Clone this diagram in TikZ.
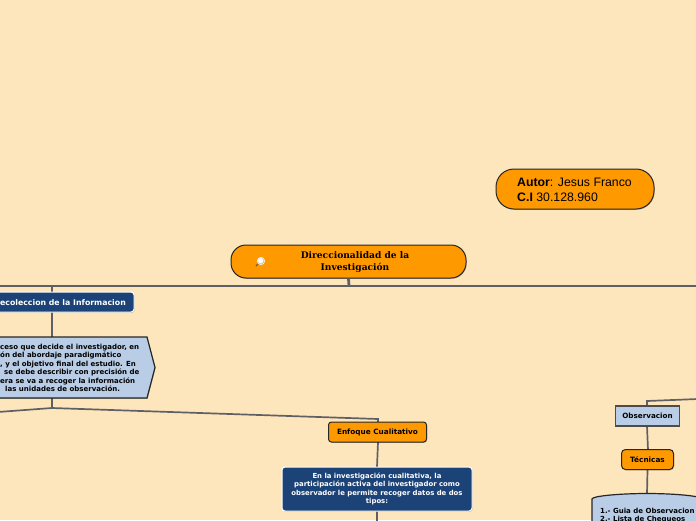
\documentclass[tikz,border=0pt]{standalone}
\usepackage{fontspec}
\setmainfont{DejaVu Sans}
\newfontfamily\titlefont{DejaVu Serif}
\newfontfamily\autfont{Liberation Sans}
\usetikzlibrary{shapes.geometric,shadows}
\definecolor{bg}{HTML}{FEE6BC}
\definecolor{orange1}{HTML}{FF9900}
\definecolor{navy1}{HTML}{1C4377}
\definecolor{pale1}{HTML}{B9CDE6}
\definecolor{line1}{HTML}{5F5F66}
\tikzset{
 x=1pt,y=-1pt,
 shade1/.style={drop shadow={shadow xshift=0.6pt,shadow yshift=-0.8pt,opacity=0.25,fill=black}},
 conn/.style={draw=line1,line width=1.7pt},
 mainconn/.style={draw=line1,line width=2.8pt},
 rootbox/.style={draw=black!85,line width=1pt,fill=orange1,rounded corners=15pt,shade1,inner sep=0pt},
 orangebox/.style={draw=black!85,line width=1pt,fill=orange1,rounded corners=3pt,shade1,inner sep=0pt,font=\fontsize{7.3}{9}\selectfont\bfseries,text=black},
 navybox/.style={draw=white,line width=1pt,fill=navy1,rounded corners=3pt,shade1,inner sep=0pt,font=\fontsize{6.9}{8.6}\selectfont\bfseries,text=white,align=center},
 palebox/.style={draw=black!70,line width=1.2pt,fill=pale1,shade1,inner sep=0pt,font=\fontsize{7.2}{9}\selectfont\bfseries,text=black},
 txt/.style={inner sep=0pt,anchor=base west,font=\fontsize{7}{9}\selectfont\bfseries,text=black},
}
\begin{document}
\begin{tikzpicture}
\useasboundingbox (0,0) rectangle (696,520);
\clip (0,0) rectangle (696,520);
\fill[bg] (0,0) rectangle (696,520);

% named anchors for free connector ends
\coordinate (rail) at (349,286);
\coordinate (railL) at (-2,286);
\coordinate (railR) at (698,286);
\coordinate (railRec) at (52,286);
\coordinate (fork) at (52,408);
\coordinate (forkL) at (-2,412);
\coordinate (bendE) at (378,419);
\coordinate (bendO) at (647,401);
\coordinate (offR) at (698,399);
\coordinate (offD) at (377,522);

% connectors
\draw[mainconn] (railL) -- (railR);
\draw[conn] (railRec) -- (52,292);
\draw[conn] (52,312) -- (52,337);
\draw[conn] (52,398) -- (fork);
\draw[conn] (forkL) -- (fork) -- (bendE) -- (378,423);
\draw[conn] (378,442) -- (377,467);
\draw[conn] (377,511) -- (offD);
\draw[conn] (647,407) -- (bendO) -- (offR);
\draw[conn] (647,426) -- (648,450);
\draw[conn] (647.5,470) -- (647,494);

% root
\node[rootbox,minimum width=235pt,minimum height=33pt] (root) at (348.5,261.5) {};
\draw[mainconn] (root.south) -- (rail);
\node[inner sep=0pt,align=center,font=\titlefont\fontsize{9.1}{11.5}\selectfont\bfseries] (roottext) at (355,262.2) {Direccionalidad de la\\Investigación};
% magnifier icon
\draw[line1,line width=1.3pt] (256,266) -- (258,264);
\fill[white] (261,261) circle (4pt);
\fill[black!20] (261,261) circle (3.5pt);
\fill[white] (260.6,260.6) circle (2.6pt);

% author
\node[rootbox,rounded corners=18pt,minimum width=158pt,minimum height=40pt] (author) at (575,189) {};
\node[inner sep=0pt,anchor=base west,font=\autfont\fontsize{12.3}{15}\selectfont] (a1) at (517,186) {\textbf{Autor}: Jesus Franco};
\node[inner sep=0pt,anchor=base west,font=\autfont\fontsize{12.3}{15}\selectfont] (a2) at (517,201) {\textbf{C.I} 30.128.960};

% Recoleccion
\node[navybox,minimum width=146pt,minimum height=20pt] (rec) at (61,302) {};
\node[inner sep=0pt,anchor=base east,text=white,font=\fontsize{7.8}{9}\selectfont\bfseries] (rect) at (126,305) {ecoleccion de la Informacion};

% signal shape
\draw[draw=black!85,line width=1.2pt,fill=pale1,shade1] (-5,337) -- (147,337) -- (155,367.5) -- (147,398) -- (-5,398) -- cycle;
\node[txt] (s1) at (0,349) {ceso que decide el investigador, en};
\node[txt] (s2) at (0,357.3) {ón del abordaje paradigmático};
\node[txt] (s3) at (0,366) {, y el objetivo final del estudio. En};
\node[txt] (s4) at (4,374) {se debe describir con precisión de};
\node[txt] (s5) at (0,383) {era se va a recoger la información};
\node[txt] (s6) at (5,391) {las unidades de observación.};

% Enfoque
\node[orangebox,minimum width=98pt,minimum height=20pt] (enf) at (377.5,432) {Enfoque Cualitativo};
% blue
\node[navybox,minimum width=190pt,minimum height=44pt] (cual) at (377,489) {En la investigación cualitativa, la\\participación activa del investigador como\\observador le permite recoger datos de dos\\tipos:};

% Observacion
\node[palebox,minimum width=64pt,minimum height=20pt] (obs) at (647.5,416) {Observacion};
% Tecnicas
\node[orangebox,rounded corners=4pt,minimum width=52pt,minimum height=20pt] (tec) at (647.5,459.5) {Técnicas};
% list shape
\draw[draw=black!85,line width=1.2pt,fill=pale1,shade1] (592,530) -- (592,499) .. controls (592,496) and (620,493.5) .. (647,493.5) .. controls (674,493.5) and (702,496) .. (702,499) -- (702,530) -- cycle;
\node[txt] (l1) at (600,513) {1.- Guia de Observacion};
\node[txt] (l2) at (600,521.3) {2.- Lista de Chequeos};
\end{tikzpicture}
\end{document}
